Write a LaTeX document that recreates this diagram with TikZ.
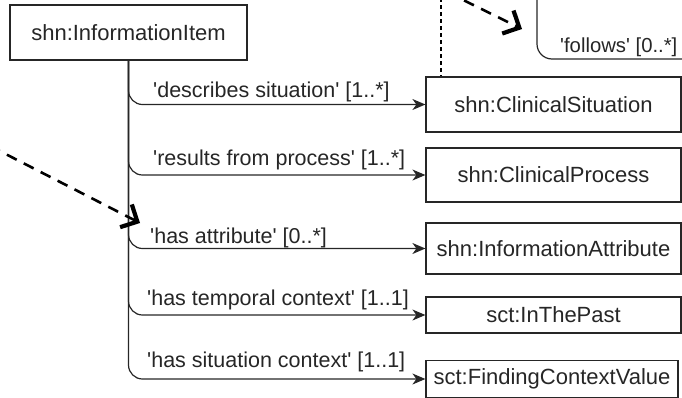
\documentclass[tikz,border=0pt]{standalone}
\usepackage{fontspec}
\setmainfont{Liberation Sans}[Ligatures=TeXOff]
\usetikzlibrary{arrows.meta}
\begin{document}
\begin{tikzpicture}[x=1pt,y=-1pt,
  box/.style={draw=black!85, line width=1.2pt, inner sep=0pt, font=\fontsize{22}{26}\selectfont, text=black!85},
  lbl/.style={inner sep=0pt, anchor=base west, font=\fontsize{21.5}{25}\selectfont, text=black!85},
  rel/.style={draw=black!85, line width=1.2pt, rounded corners=14pt, -{Stealth[length=13pt,width=11pt,inset=4pt]}},
  dep/.style={line width=2.6pt, dash pattern=on 11pt off 8pt, -{Straight Barb[length=8pt,width=16pt,line width=4.2pt,scale=1.6]}},
  dots/.style={line width=1.3pt, dash pattern=on 4pt off 3pt},
  frame/.style={draw=black!85, line width=1.2pt, rounded corners=15pt}]
\useasboundingbox (0,0) rectangle (682,397);
\clip (0,0) rectangle (682,397);
% nodes
\node[box, minimum width=237pt, minimum height=55pt] (ii) at (128.5,32.5) {shn:InformationItem};
\node[box, minimum width=255pt, minimum height=55pt] (cs) at (553.5,104.5) {shn:ClinicalSituation};
\node[box, minimum width=255pt, minimum height=54pt] (cp) at (553.5,175) {shn:ClinicalProcess};
\node[box, minimum width=255pt, minimum height=51pt] (ia) at (553.5,248.5) {shn:InformationAttribute};
\node[box, minimum width=255pt, minimum height=36pt] (itp) at (553.5,315) {sct:InThePast};
\node[box, minimum width=252pt, minimum height=37pt] (fcv) at (552,379) {sct:FindingContextValue};
% relations
\draw[rel] (ii.south) |- (cs.west);
\draw[rel] (ii.south) |- (cp.west);
\draw[rel] (ii.south) |- (ia.west);
\draw[rel] (ii.south) |- (itp.west);
\draw[rel] (ii.south) |- (fcv.west);
% labels
\node[lbl] (l1) at (153,97) {'describes situation' [1..*]};
\node[lbl] (l2) at (153,165) {'results from process' [1..*]};
\node[lbl] (l3) at (150,243) {'has attribute' [0..*]};
\node[lbl] (l4) at (147,305) {'has temporal context' [1..1]};
\node[lbl] (l5) at (147,367) {'has situation context' [1..1]};
% top right partial frame
\coordinate (ft) at (537,-20);
\coordinate (fc) at (537,59);
\coordinate (fr) at (700,59);
\draw[frame] (ft) -- (fc) -- (fr);
\node[lbl, font=\fontsize{20.3}{24}\selectfont] (lf) at (560,52) {'follows' [0..*]};
% dotted vertical
\coordinate (dtop) at (441,-2);
\draw[dots] (dtop) -- (dtop |- cs.north);
% dashed arrows
\coordinate (d1s) at (-10,146);
\coordinate (d1e) at (140,223);
\draw[dep] (d1s) -- (d1e);
\coordinate (d2s) at (447,-8);
\coordinate (d2e) at (522,29);
\draw[dep] (d2s) -- (d2e);
\end{tikzpicture}
\end{document}
